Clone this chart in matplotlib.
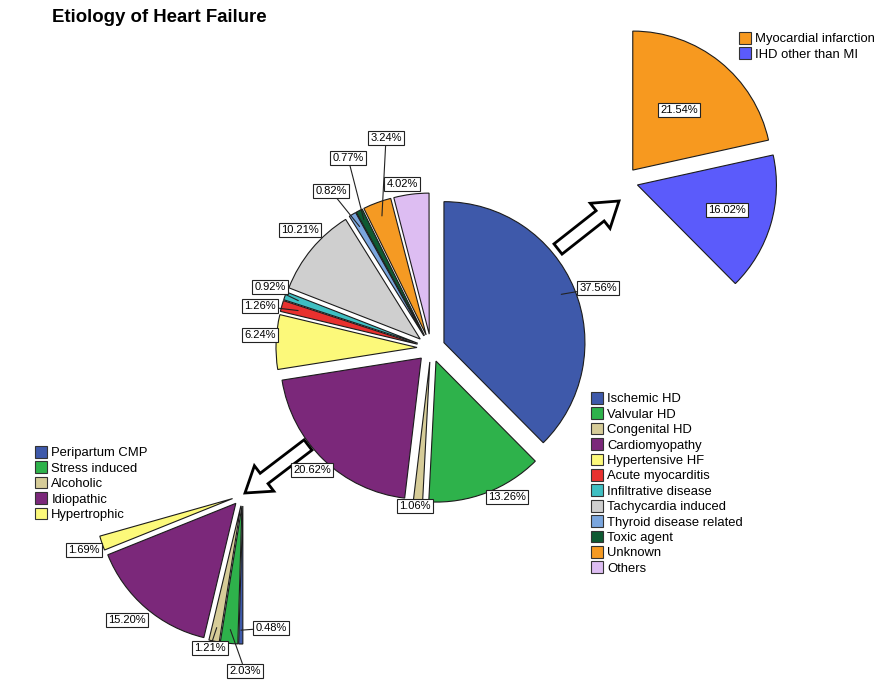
import numpy as np
import matplotlib
matplotlib.use('Agg')
import matplotlib.pyplot as plt
from matplotlib.patches import Patch, FancyArrow

plt.rcParams['font.family'] = ['Liberation Sans', 'DejaVu Sans']

W, H = 890, 688

# main pie: etiology of heart failure (%)
causes = ['Ischemic HD', 'Valvular HD', 'Congenital HD', 'Cardiomyopathy',
          'Hypertensive HF', 'Acute myocarditis', 'Infiltrative disease',
          'Tachycardia induced', 'Thyroid disease related', 'Toxic agent',
          'Unknown', 'Others']
cause_pct = [37.56, 13.26, 1.06, 20.62, 6.24, 1.26, 0.92, 10.21, 0.82, 0.77, 3.24, 4.02]
cause_colors = ['#3e59aa', '#2eb24b', '#d6cc98', '#7b287a', '#fcf97a', '#e8312f',
                '#3fbfc2', '#cfcfcf', '#7aa6de', '#0e5a32', '#f59a23', '#ddbdf2']

# breakdown of ischemic HD
ihd_types = ['Myocardial infarction', 'IHD other than MI']
ihd_pct = [21.54, 16.02]
ihd_colors = ['#f7991f', '#5b5bfb']

# breakdown of cardiomyopathy
cmp_types = ['Peripartum CMP', 'Stress induced', 'Alcoholic', 'Idiopathic', 'Hypertrophic']
cmp_pct = [0.48, 2.03, 1.21, 15.20, 1.69]
cmp_colors = ['#3e59aa', '#2eb24b', '#d6cc98', '#7b287a', '#fcf97a']

# label box positions (pixels from top-left) and leader anchors (fraction of radius, None = no line)
main_lbl = [(598, 288), (507, 497), (415, 506), (312, 470), (260, 335), (260, 306),
            (270, 287), (300, 230), (331, 191), (348, 158), (386, 138), (402, 184)]
main_lead = [0.9, None, None, None, None, 0.88, 0.9, None, 0.9, 0.93, 0.9, None]
ihd_lbl = [(679, 110), (727, 210)]
ihd_lead = [None, None]
cmp_lbl = [(271, 628), (245, 671), (210, 648), (127, 620), (84, 550)]
cmp_lead = [0.9, 0.9, 0.9, None, None]


def draw_pie(ax, pct, colors, center, radius, explode, start, lbl_pos, lead):
    # explode is in pixels here (pie offsets in data units)
    wedges, _ = ax.pie(np.array(pct) / 100, normalize=False, colors=colors,
                       startangle=start, counterclock=False,
                       explode=[explode] * len(pct),
                       center=(center[0], H - center[1]), radius=radius,
                       wedgeprops=dict(edgecolor='#1c1c1c', linewidth=0.8))
    for w, v, (lx, ly), f in zip(wedges, pct, lbl_pos, lead):
        mid = np.deg2rad((w.theta1 + w.theta2) / 2)
        cx, cy = w.center
        anchor = (cx + f * w.r * np.cos(mid), cy + f * w.r * np.sin(mid)) if f else (lx, H - ly)
        ax.annotate(f'{v:.2f}%', xy=anchor, xytext=(lx, H - ly),
                    ha='center', va='center', fontsize=8, zorder=5,
                    bbox=dict(boxstyle='square,pad=0.18', fc='white', ec='#222222', lw=0.8),
                    arrowprops=dict(arrowstyle='-', color='#222222', lw=0.8,
                                    shrinkA=0, shrinkB=0) if f else None)


fig = plt.figure(figsize=(W / 100, H / 100), dpi=100)
ax = fig.add_axes([0, 0, 1, 1])

draw_pie(ax, cause_pct, cause_colors, (431, 348), 141, 14, 90, main_lbl, main_lead)
draw_pie(ax, ihd_pct, ihd_colors, (624, 181), 139, 14, 90, ihd_lbl, ihd_lead)
draw_pie(ax, cmp_pct, cmp_colors, (243, 495), 138, 11, -90, cmp_lbl, cmp_lead)

# hollow block arrows pointing to the breakdowns
for (x0, y0), (x1, y1) in [((558, 249), (619, 201)), ((308, 445), (245, 493))]:
    ax.add_patch(FancyArrow(x0, H - y0, x1 - x0, y0 - y1, width=13, head_width=32,
                            head_length=24, length_includes_head=True,
                            fc='white', ec='black', lw=2, zorder=4))

ax.set_xlim(0, W)
ax.set_ylim(0, H)
ax.set_aspect('equal')
ax.axis('off')

ax.text(52, H - 18, 'Etiology of Heart Failure', fontsize=13.4, fontweight='bold',
        ha='left', va='center')


def add_legend(names, colors, x, y):
    handles = [Patch(facecolor=c, edgecolor='#333333', lw=0.8) for c in colors]
    leg = fig.legend(handles, names, loc='upper left', bbox_to_anchor=(x / W, 1 - y / H),
                     frameon=False, fontsize=9.4, handlelength=0.95, handleheight=1.0,
                     handletextpad=0.3, labelspacing=0.16, borderpad=0, borderaxespad=0)
    return leg


add_legend(causes, cause_colors, 591, 392)
add_legend(ihd_types, ihd_colors, 739, 32)
add_legend(cmp_types, cmp_colors, 35, 446)

fig.savefig('out.png', dpi=100)
